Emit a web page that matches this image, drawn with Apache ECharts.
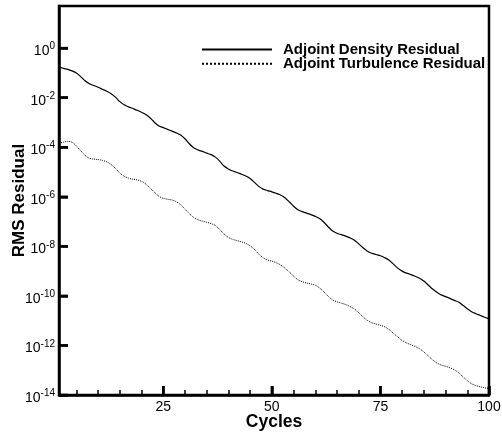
<!DOCTYPE html>
<html><head><meta charset="utf-8">
<script src="https://cdn.jsdelivr.net/npm/echarts@6/dist/echarts.min.js"></script>
<style>html,body{margin:0;padding:0;background:#fff}#c{width:502px;height:435px}</style>
</head><body><div id="c"></div>
<script>
// Cycle numbers (x)
const cycles = [];
for (let i = 1; i <= 100; i++) cycles.push(i);

// log10 of RMS residual, one value per cycle
const densityExp = [
-0.75,-0.82,-0.86,-0.92,-1.00,-1.15,-1.32,-1.44,-1.51,-1.58,
-1.66,-1.74,-1.84,-1.98,-2.16,-2.29,-2.37,-2.44,-2.51,-2.59,
-2.68,-2.82,-3.00,-3.14,-3.21,-3.28,-3.35,-3.42,-3.51,-3.66,
-3.86,-4.02,-4.11,-4.17,-4.24,-4.30,-4.40,-4.56,-4.76,-4.88,
-4.96,-5.02,-5.09,-5.16,-5.26,-5.42,-5.58,-5.69,-5.75,-5.80,
-5.86,-5.93,-6.04,-6.20,-6.38,-6.52,-6.60,-6.66,-6.72,-6.79,
-6.88,-7.03,-7.22,-7.38,-7.47,-7.53,-7.59,-7.66,-7.75,-7.90,
-8.06,-8.20,-8.28,-8.33,-8.38,-8.46,-8.56,-8.72,-8.88,-9.00,
-9.08,-9.14,-9.21,-9.29,-9.40,-9.56,-9.72,-9.85,-9.96,-10.03,
-10.10,-10.18,-10.25,-10.38,-10.52,-10.64,-10.72,-10.79,-10.86,-10.93
];
const turbulenceExp = [
-3.84,-3.80,-3.76,-3.80,-3.95,-4.15,-4.33,-4.45,-4.48,-4.50,
-4.53,-4.59,-4.70,-4.86,-5.04,-5.17,-5.25,-5.29,-5.32,-5.38,
-5.49,-5.65,-5.82,-5.98,-6.06,-6.10,-6.13,-6.20,-6.32,-6.50,
-6.68,-6.83,-6.93,-6.98,-7.03,-7.08,-7.16,-7.32,-7.50,-7.64,
-7.72,-7.77,-7.82,-7.88,-7.98,-8.13,-8.31,-8.46,-8.55,-8.60,
-8.66,-8.75,-8.88,-9.03,-9.20,-9.35,-9.43,-9.48,-9.52,-9.57,
-9.68,-9.84,-10.02,-10.16,-10.24,-10.29,-10.35,-10.43,-10.53,-10.68,
-10.85,-10.99,-11.08,-11.14,-11.19,-11.25,-11.36,-11.51,-11.66,-11.80,
-11.90,-11.97,-12.04,-12.13,-12.26,-12.42,-12.58,-12.71,-12.79,-12.84,
-12.90,-12.98,-13.10,-13.26,-13.42,-13.55,-13.62,-13.67,-13.71,-13.74
];

const seriesNames = ['Adjoint Density Residual', 'Adjoint Turbulence Residual'];
const yTickExps = [-14, -12, -10, -8, -6, -4, -2, 0];   // labels 10^n
const yMin = 1e-14, yMax = 50;
const xMin = 1, xMax = 100;
const xMajorTicks = [25, 50, 75, 100];
const xMinorTicks = [5, 10, 15, 20, 30, 35, 40, 45, 55, 60, 65, 70, 80, 85, 90, 95];

const FONT = '"Liberation Sans", Arial, Helvetica, sans-serif';
const toPts = exps => exps.map((e, i) => [cycles[i], Math.pow(10, e)]);

const chart = echarts.init(document.getElementById('c'), null, {renderer: 'canvas'});
chart.setOption({
  animation: false,
  backgroundColor: '#fff',
  grid: {left: 59, right: 13, top: 6, bottom: 40, outerBoundsMode: 'none', containLabel: false,
         show: true, borderColor: '#000', borderWidth: 2.5, backgroundColor: 'transparent'},
  legend: {
    orient: 'vertical', left: 201, top: 42, padding: 0,
    itemWidth: 70, itemHeight: 12, itemGap: -0.8,
    data: seriesNames,
    itemStyle: {opacity: 0},
    textStyle: {fontFamily: FONT, fontWeight: 'bold', fontSize: 15, lineHeight: 13, color: '#000', padding: [0, 0, 0, 6]}
  },
  xAxis: [{
    type: 'value', min: xMin, max: xMax, position: 'bottom',
    name: 'Cycles', nameLocation: 'middle', nameGap: 18, nameMoveOverlap: false,
    nameTextStyle: {fontFamily: FONT, fontWeight: 'bold', fontSize: 17.5, color: '#000'},
    axisLine: {show: true, onZero: false, lineStyle: {color: '#000', width: 2.5}},
    axisTick: {show: true, inside: true, length: 9, lineStyle: {color: '#000', width: 2.5}, customValues: xMajorTicks},
    axisLabel: {show: true, customValues: xMajorTicks, margin: 5, fontFamily: FONT, fontSize: 14, color: '#000'},
    splitLine: {show: false}
  }, {
    type: 'value', min: xMin, max: xMax, position: 'bottom', offset: 0,
    axisLine: {show: false, onZero: false},
    axisTick: {show: true, inside: true, length: 5, lineStyle: {color: '#000', width: 1.5}, customValues: xMinorTicks},
    axisLabel: {show: false},
    splitLine: {show: false}
  }],
  yAxis: [{
    // left axis in decades: carries the 10^n labels and the title
    type: 'value', min: Math.log10(yMin), max: Math.log10(yMax), position: 'left',
    name: 'RMS Residual', nameLocation: 'middle', nameGap: 31, nameMoveOverlap: false,
    nameTextStyle: {fontFamily: FONT, fontWeight: 'bold', fontSize: 17, color: '#000'},
    axisLine: {show: true, onZero: false, lineStyle: {color: '#000', width: 2.5}},
    axisTick: {show: true, inside: true, length: 9, lineStyle: {color: '#000', width: 2.5}, customValues: yTickExps},
    axisLabel: {
      show: true, customValues: yTickExps, margin: 4, padding: [6, 0, 0, 0],
      formatter: v => '{b|10}{s|' + Math.round(v) + '}',
      rich: {
        b: {fontFamily: FONT, fontSize: 14, color: '#000'},
        s: {fontFamily: FONT, fontSize: 10, color: '#000', padding: [0, 0, 9, 0]}
      }
    },
    splitLine: {show: false}
  }, {
    // logarithmic data axis (same extent), hidden
    type: 'log', logBase: 10, min: yMin, max: yMax, position: 'right',
    axisLine: {show: false, onZero: false},
    axisTick: {show: false},
    axisLabel: {show: false},
    splitLine: {show: false},
    minorTick: {show: false}
  }],
  series: [{
    name: seriesNames[0], type: 'line', xAxisIndex: 0, yAxisIndex: 1, data: toPts(densityExp),
    symbol: 'none', smooth: 0.3, lineStyle: {color: '#000', width: 1.2, type: 'solid'}, itemStyle: {color: '#000'}
  }, {
    name: seriesNames[1], type: 'line', xAxisIndex: 0, yAxisIndex: 1, data: toPts(turbulenceExp),
    symbol: 'none', smooth: 0.3, lineStyle: {color: '#000', width: 1, type: 'dotted'}, itemStyle: {color: '#000'}
  }]
});

// Tick marks as filled bars, placed through the axis scales
const xLeft = chart.convertToPixel({xAxisIndex: 0}, xMin);
const yBottom = chart.convertToPixel({yAxisIndex: 0}, Math.log10(yMin));
const tickRects = [];
yTickExps.forEach(e => {
  const y = chart.convertToPixel({yAxisIndex: 0}, e);
  if (isFinite(y) && isFinite(xLeft)) {
    tickRects.push({type: 'rect', silent: true, z: 100,
      shape: {x: xLeft, y: y - 1.25, width: 9, height: 2.5},
      style: {fill: '#000'}});
  }
});
xMajorTicks.forEach(v => {
  const x = chart.convertToPixel({xAxisIndex: 0}, v);
  if (isFinite(x) && isFinite(yBottom)) {
    tickRects.push({type: 'rect', silent: true, z: 100,
      shape: {x: x - 1.25, y: yBottom - 9, width: 2.5, height: 9},
      style: {fill: '#000'}});
  }
});
chart.setOption({graphic: tickRects});
</script>
</body></html>
